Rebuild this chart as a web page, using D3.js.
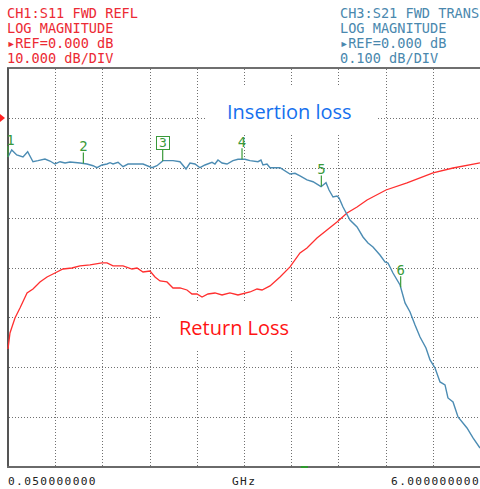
<!DOCTYPE html>
<html><head><meta charset="utf-8">
<script src="https://cdn.jsdelivr.net/npm/d3@7"></script>
<style>body{margin:0;background:#fff}svg{display:block}</style>
</head><body>
<script>
// ---- data ----
const s21Freq = [0.05,0.097,0.160,0.239,0.298,0.365,0.428,0.516,0.579,0.642,0.706,0.769,0.832,0.958,1.046,1.122,1.172,1.235,1.298,1.336,1.374,1.437,1.500,1.563,1.752,1.865,1.928,2.004,2.130,2.218,2.294,2.344,2.407,2.470,2.533,2.622,2.659,2.697,2.748,2.811,2.886,2.949,3.038,3.101,3.201,3.239,3.264,3.315,3.353,3.479,3.605,3.668,3.731,3.819,3.895,3.996,4.059,4.097,4.147,4.197,4.223,4.273,4.361,4.450,4.525,4.588,4.651,4.739,4.802,4.840,4.903,4.992,5.055,5.118,5.181,5.244,5.319,5.370,5.433,5.496,5.559,5.596,5.660,5.723,5.836,5.912,6.000];
const s21dB = [-0.0784,-0.0644,-0.0744,-0.0784,-0.0678,-0.0879,-0.0858,-0.0825,-0.0865,-0.0925,-0.0879,-0.0905,-0.0885,-0.0905,-0.0925,-0.0959,-0.0999,-0.0945,-0.0925,-0.0899,-0.0925,-0.0891,-0.0979,-0.0925,-0.0925,-0.0999,-0.0959,-0.0858,-0.0858,-0.0879,-0.1025,-0.0905,-0.0925,-0.0999,-0.0945,-0.0891,-0.0925,-0.0845,-0.0905,-0.0925,-0.0858,-0.0831,-0.0831,-0.0858,-0.0879,-0.0845,-0.0945,-0.0925,-0.0999,-0.0999,-0.1125,-0.1111,-0.1165,-0.1245,-0.1280,-0.1380,-0.1300,-0.1446,-0.1586,-0.1566,-0.1606,-0.1787,-0.2047,-0.2188,-0.2388,-0.2508,-0.2588,-0.2749,-0.2889,-0.2909,-0.3110,-0.3350,-0.3711,-0.3892,-0.4152,-0.4393,-0.4614,-0.4854,-0.5015,-0.5295,-0.5355,-0.5616,-0.5696,-0.5997,-0.6218,-0.6418,-0.6619];
const s11Freq = [0.05,0.075,0.100,0.138,0.201,0.290,0.365,0.453,0.542,0.642,0.743,0.857,0.958,1.084,1.235,1.298,1.374,1.500,1.613,1.676,1.752,1.840,1.903,1.966,2.054,2.130,2.218,2.306,2.369,2.432,2.496,2.571,2.659,2.748,2.848,2.949,3.101,3.189,3.252,3.353,3.479,3.605,3.731,3.819,3.945,4.071,4.197,4.324,4.450,4.576,4.815,5.080,5.408,5.660,6.000];
const s11dB = [-46.34,-43.13,-41.93,-40.12,-38.12,-35.11,-34.31,-32.90,-31.90,-31.10,-30.30,-30.10,-29.69,-29.49,-29.09,-29.09,-29.69,-29.69,-30.30,-30.10,-30.90,-30.70,-31.90,-32.70,-32.90,-34.11,-34.11,-34.51,-35.31,-35.31,-35.91,-35.31,-35.11,-35.51,-35.11,-35.51,-34.91,-34.31,-34.51,-33.70,-31.90,-29.89,-27.09,-26.09,-24.08,-22.48,-20.87,-19.07,-17.86,-16.46,-14.46,-13.05,-11.05,-10.05,-9.04];
const markerFreq = [0.05,1,2,3,4,5];
const markerLabels = ["1","2","3","4","5","6"];
const activeMarker = "3";
const stimulusMarkFreq = [3.74,3.83];
const freqStart = 0.05, freqStop = 6, freqDivs = 10;
const s11GridDb = [0,-10,-20,-30,-40,-50,-60];
const freqLabels = ["0.050000000","GHz","6.000000000"];
const ch1Header = ["CH1:S11 FWD REFL","LOG MAGNITUDE","\u25B8REF=0.000 dB","10.000 dB/DIV"];
const ch3Header = ["CH3:S21 FWD TRANS","LOG MAGNITUDE","\u25B8REF=0.000 dB","0.100 dB/DIV"];
const annotations = ["Insertion loss","Return Loss"];

// ---- chart ----
const W = 480, H = 489;
const L = 8, R = 480, T = 68, B = 467;
const svg = d3.select("body").append("svg").attr("width", W).attr("height", H);
const x = d3.scaleLinear().domain([freqStart, freqStop]).range([L, R]);
const yS11 = d3.scaleLinear().domain([10, -70]).range([T, B]);
const yS21 = d3.scaleLinear().domain([0.1, -0.7]).range([T, B]);

const mono = "'DejaVu Sans Mono', monospace";
const red = "#ec2a34", teal = "#4a88ae";

// header
const hdr = (lines, x0, col) => svg.append("g").selectAll("text").data(lines).join("text")
  .attr("x", x0).attr("y", (d, i) => 18 + 15 * i)
  .attr("font-family", mono).attr("font-size", 13.6).attr("fill", col).text(d => d);
hdr(ch1Header, 7, red);
hdr(ch3Header, 340, teal);

// grid
const vFreqs = d3.range(1, freqDivs).map(i => freqStart + i * (freqStop - freqStart) / freqDivs);
const grid = svg.append("g").attr("stroke", "#707070").attr("stroke-width", 1).attr("stroke-dasharray", "1,2");
grid.selectAll(".v").data(vFreqs).join("line")
  .attr("x1", d => Math.round(x(d)) + 0.5).attr("x2", d => Math.round(x(d)) + 0.5)
  .attr("y1", T + 1).attr("y2", B - 1);
grid.selectAll(".h").data(s11GridDb).join("line")
  .attr("x1", L + 1).attr("x2", R)
  .attr("y1", d => Math.round(yS11(d)) + 0.5).attr("y2", d => Math.round(yS11(d)) + 0.5);

// annotation boxes (white background hides grid)
svg.append("rect").attr("x", 207).attr("y", 85).attr("width", 170).attr("height", 50).attr("fill", "#fff");
svg.append("rect").attr("x", 160).attr("y", 303).attr("width", 170).attr("height", 48).attr("fill", "#fff");

svg.append("text").attr("x", 227).attr("y", 119).attr("font-family", "'Open Sans', sans-serif")
  .attr("font-size", 20).attr("fill", "#1670ee").text(annotations[0]);
svg.append("text").attr("x", 179).attr("y", 335).attr("font-family", "'Open Sans', sans-serif")
  .attr("font-size", 20).attr("fill", "#ff1414").text(annotations[1]);

// axes frame
svg.append("line").attr("x1", 7).attr("x2", R).attr("y1", T).attr("y2", T).attr("stroke", "#6f6f6f").attr("stroke-width", 2);
svg.append("line").attr("x1", L).attr("x2", L).attr("y1", T).attr("y2", B).attr("stroke", "#555").attr("stroke-width", 2);
svg.append("line").attr("x1", L - 1).attr("x2", R).attr("y1", B).attr("y2", B).attr("stroke", "#6a6a6a").attr("stroke-width", 2);

// reference marker
const r0 = yS11(0);
svg.append("path").attr("d", `M0,${r0 - 4}L5,${r0}L0,${r0 + 4}Z`).attr("fill", "#ff2020");

// traces
const s11 = s11Freq.map((f, i) => [f, s11dB[i]]);
const s21 = s21Freq.map((f, i) => [f, s21dB[i]]);
svg.append("path").datum(s11).attr("fill", "none").attr("stroke", "#ff2f2f").attr("stroke-width", 1.3)
  .attr("d", d3.line().x(d => x(d[0])).y(d => yS11(d[1])));
svg.append("path").datum(s21).attr("fill", "none").attr("stroke", "#4c8cb3").attr("stroke-width", 1.4)
  .attr("d", d3.line().x(d => x(d[0])).y(d => yS21(d[1])));

// markers on S21
function interp(fs, vs, f) {
  const i = d3.bisectLeft(fs, f);
  if (i <= 0) return vs[0];
  if (i >= fs.length) return vs[vs.length - 1];
  const t = (f - fs[i - 1]) / (fs[i] - fs[i - 1]);
  return vs[i - 1] + t * (vs[i] - vs[i - 1]);
}
const green = "#3a9a3a";
const mg = svg.append("g");
markerFreq.forEach((f, i) => {
  const px = x(f), py = yS21(interp(s21Freq, s21dB, f));
  const lx = px + (i === 0 ? 2.5 : 0);
  mg.append("line").attr("x1", px).attr("x2", px).attr("y1", py - 11).attr("y2", py)
    .attr("stroke", green).attr("stroke-width", 1.2);
  if (markerLabels[i] === activeMarker) {
    mg.append("rect").attr("x", Math.round(px) - 6.5).attr("y", Math.round(py) - 24.5)
      .attr("width", 13).attr("height", 13).attr("fill", "#fff").attr("stroke", green);
    mg.append("text").attr("x", Math.round(px)).attr("y", py - 13.5).attr("text-anchor", "middle")
      .attr("font-family", mono).attr("font-size", 13).attr("fill", green).text(markerLabels[i]);
  } else {
    mg.append("text").attr("x", lx).attr("y", py - 12).attr("text-anchor", "middle")
      .attr("font-family", mono).attr("font-size", 14).attr("fill", green).text(markerLabels[i]);
  }
});
svg.append("rect").attr("x", x(stimulusMarkFreq[0])).attr("y", B - 1)
  .attr("width", x(stimulusMarkFreq[1]) - x(stimulusMarkFreq[0])).attr("height", 2).attr("fill", "#2e9a2e");

// frequency labels
const fl = svg.append("g").attr("font-family", mono).attr("font-size", 11.2).attr("letter-spacing", 1.35).attr("fill", "#222");
fl.append("text").attr("x", 8).attr("y", 485).text(freqLabels[0]);
fl.append("text").attr("x", 232).attr("y", 485).text(freqLabels[1]);
fl.append("text").attr("x", 480).attr("y", 485).attr("text-anchor", "end").text(freqLabels[2]);
</script>
</body></html>
